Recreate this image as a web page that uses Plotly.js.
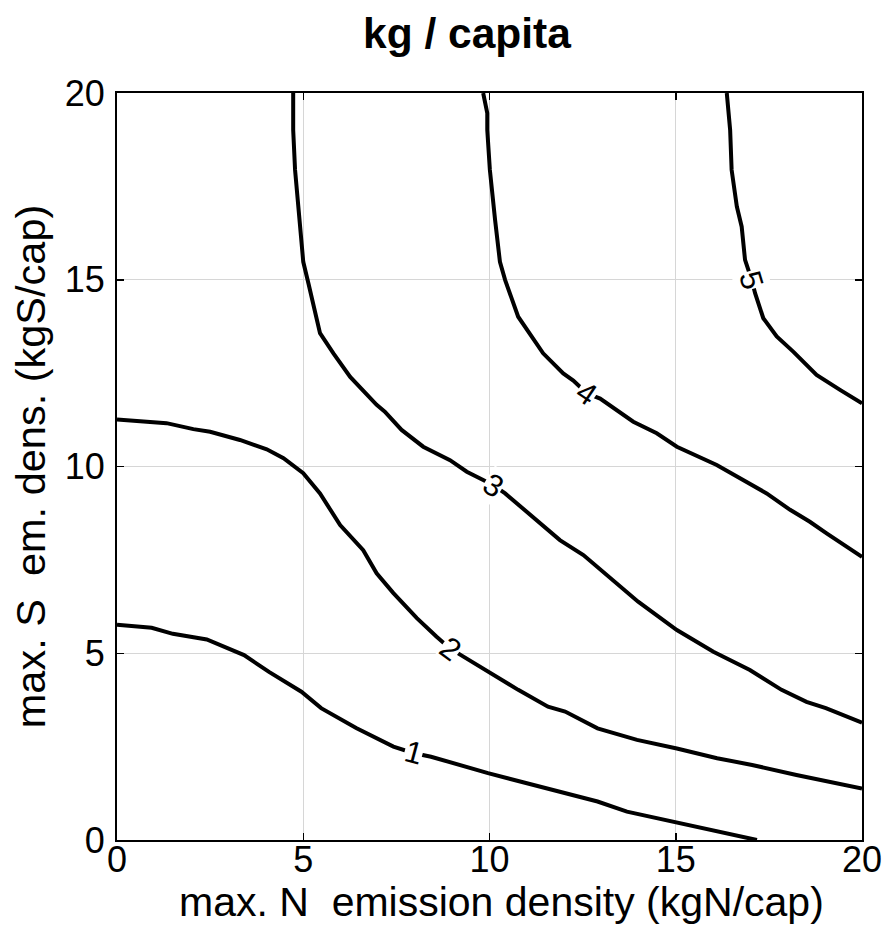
<!DOCTYPE html>
<html>
<head>
<meta charset="utf-8">
<script src="https://cdn.plot.ly/plotly-3.0.1.min.js"></script>
<style>html,body{margin:0;padding:0;background:#fff;}#chart{width:889px;height:927px;}</style>
</head>
<body>
<div id="chart"></div>
<script>
// Contour levels (kg / capita)
const levels = [1, 2, 3, 4, 5];

// Contour lines: x = max. N emission density, y = max. S em. dens.
const c1x = [0, 0.93, 1.5, 2.41, 3.41, 4.08, 4.95, 5.48, 6.42, 7.42, 7.95, 8.43, 9.96, 11.17, 12.03, 12.90, 13.69, 14.90, 15.97, 17.18];
const c1y = [5.76, 5.68, 5.52, 5.37, 4.95, 4.50, 3.97, 3.53, 3.00, 2.50, 2.33, 2.23, 1.79, 1.47, 1.26, 1.03, 0.76, 0.49, 0.27, 0.0];

const c2x = [0, 1.33, 2.05, 2.50, 3.30, 4.02, 4.47, 5.00, 5.45, 5.99, 6.61, 6.97, 7.42, 8.05, 8.58, 8.94, 9.30, 9.96, 10.77, 11.57, 12.03, 12.90, 13.96, 15.03, 16.11, 17.05, 18.24, 20];
const c2y = [11.26, 11.16, 11.00, 10.93, 10.71, 10.46, 10.22, 9.82, 9.28, 8.43, 7.76, 7.14, 6.61, 5.94, 5.44, 5.13, 4.91, 4.51, 4.02, 3.57, 3.44, 2.99, 2.68, 2.45, 2.19, 2.01, 1.74, 1.38];

const c3x = [4.73, 4.73, 4.78, 4.91, 5.00, 5.14, 5.45, 5.81, 6.26, 6.97, 7.19, 7.64, 8.22, 8.94, 9.39, 9.83, 10.10, 10.42, 11.04, 11.89, 12.52, 13.32, 13.99, 15.03, 16.01, 16.99, 17.84, 18.51, 19.03, 20];
const c3y = [20, 19.01, 17.94, 16.42, 15.48, 14.90, 13.57, 13.03, 12.40, 11.65, 11.47, 10.98, 10.53, 10.17, 9.86, 9.64, 9.50, 9.28, 8.75, 8.03, 7.63, 6.96, 6.38, 5.62, 5.04, 4.55, 4.02, 3.70, 3.53, 3.14];

const c4x = [9.83, 9.94, 9.94, 10.01, 10.15, 10.28, 10.42, 10.77, 11.44, 11.98, 12.25, 12.61, 12.97, 13.86, 14.49, 15.03, 16.10, 16.72, 17.44, 18.07, 18.60, 19.05, 20];
const c4y = [20, 19.46, 19.01, 17.94, 16.60, 15.48, 14.99, 14.01, 13.03, 12.49, 12.30, 11.96, 11.82, 11.20, 10.89, 10.53, 10.04, 9.68, 9.28, 8.84, 8.52, 8.21, 7.58];

const c5x = [16.37, 16.46, 16.50, 16.64, 16.77, 16.86, 17.04, 17.13, 17.35, 17.71, 18.16, 18.78, 19.41, 20];
const c5y = [20, 19.01, 17.94, 16.96, 16.42, 15.53, 14.99, 14.64, 13.97, 13.48, 13.07, 12.45, 12.05, 11.69];

// Inline contour labels (position along each line)
const labelX = [7.95, 8.94, 10.10, 12.61, 17.04];
const labelY = [2.33, 5.13, 9.50, 11.96, 14.99];

// Axis ticks
const tickVals = [0, 5, 10, 15, 20];
const tickText = ['0', '5', '10', '15', '20'];

const FONT = 'Liberation Sans, Arial, Helvetica, sans-serif';
const W = 889, H = 927;
const M = {l: 117, r: 27, t: 93, b: 87};
const ppx = (W - M.l - M.r) / 20;
const ppy = (H - M.t - M.b) / 20;

const lines = [[c1x, c1y], [c2x, c2y], [c3x, c3y], [c4x, c4y], [c5x, c5y]];

const traces = lines.map((c, i) => ({
  type: 'scatter', mode: 'lines', x: c[0], y: c[1],
  line: {color: '#000', width: 4}, hoverinfo: 'skip', showlegend: false,
  name: String(levels[i])
}));

// label angle follows the local line direction
function angleAt(xs, ys, lx, ly) {
  let best = 0, bd = Infinity;
  for (let k = 0; k < xs.length; k++) {
    const d = (xs[k] - lx) ** 2 + (ys[k] - ly) ** 2;
    if (d < bd) { bd = d; best = k; }
  }
  const a = Math.max(0, best - 1), b = Math.min(xs.length - 1, best + 1);
  const dx = (xs[b] - xs[a]) * ppx;
  const dy = -(ys[b] - ys[a]) * ppy;
  return Math.atan2(dy, dx) * 180 / Math.PI;
}

const annotations = levels.map((lv, i) => ({
  x: labelX[i], y: labelY[i], xref: 'x', yref: 'y',
  text: String(lv), showarrow: false,
  textangle: angleAt(lines[i][0], lines[i][1], labelX[i], labelY[i]),
  font: {family: FONT, size: 31, color: '#000'},
  bgcolor: '#fff', borderpad: 0
}));

// x-axis title, placed slightly right of the plot centre as in the original
annotations.push({
  text: 'max. N\u00A0 emission density (kgN/cap)', showarrow: false,
  xref: 'paper', yref: 'paper',
  x: (501 - M.l) / (W - M.l - M.r), xanchor: 'center',
  y: -(926 - (H - M.b)) / (H - M.t - M.b), yanchor: 'bottom',
  borderpad: 0,
  font: {family: FONT, size: 41, color: '#000'}
});

const axisCommon = {
  range: [0, 20], tickmode: 'array', tickvals: tickVals, ticktext: tickText,
  showgrid: true, gridcolor: '#d6d6d6', gridwidth: 1, zeroline: false,
  showline: true, linecolor: '#000', linewidth: 2, mirror: 'ticks',
  ticks: 'inside', ticklen: 7, tickwidth: 1.5, tickcolor: '#000',
  tickfont: {family: FONT, size: 36, color: '#000'},
  automargin: false, fixedrange: true
};

const layout = {
  width: W, height: H, margin: M,
  paper_bgcolor: '#fff', plot_bgcolor: '#fff',
  title: {
    text: '<b>kg / capita</b>', x: (467 - M.l) / (W - M.l - M.r), xref: 'paper', xanchor: 'center',
    y: 1 - 33 / H, yref: 'container', yanchor: 'middle',
    font: {family: FONT, size: 42.5, color: '#000'}
  },
  xaxis: Object.assign({}, axisCommon, {
    ticklabelstandoff: -13
  }),
  yaxis: Object.assign({}, axisCommon, {
    ticklabelstandoff: 3,
    title: {text: 'max. S\u00A0 em. dens. (kgS/cap)', standoff: 6,
      font: {family: FONT, size: 41.5, color: '#000'}}
  }),
  annotations: annotations,
  showlegend: false
};

Plotly.newPlot('chart', traces, layout, {displayModeBar: false, staticPlot: true});
</script>
</body>
</html>
